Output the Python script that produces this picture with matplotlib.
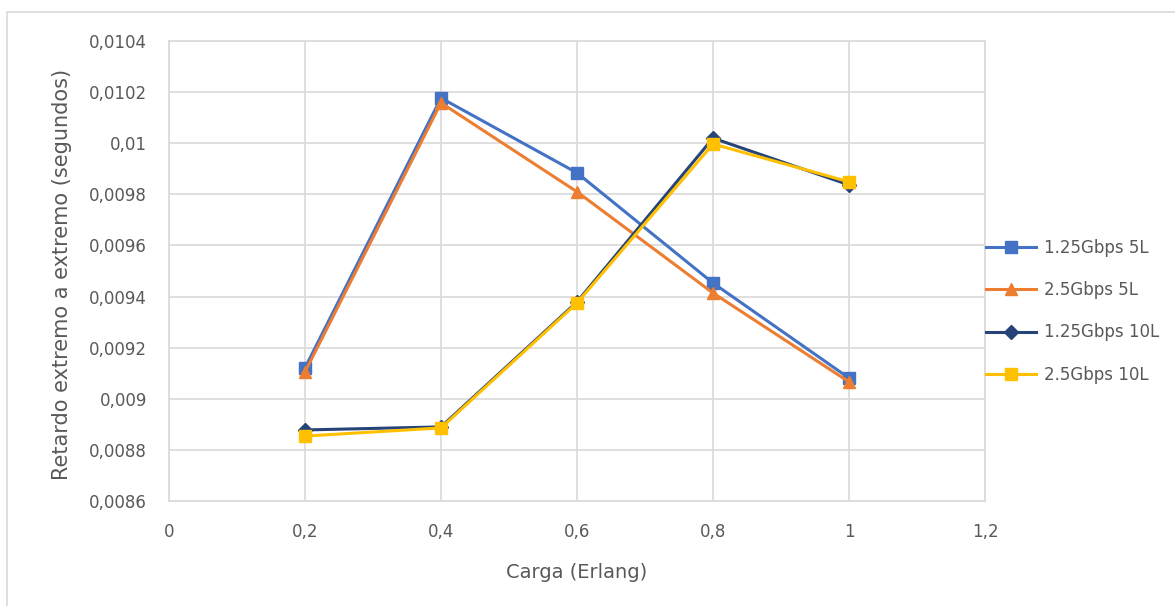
import matplotlib.pyplot as plt
from matplotlib.ticker import FuncFormatter
from matplotlib.patches import Rectangle
from matplotlib.lines import Line2D

# data
carga = [0.2, 0.4, 0.6, 0.8, 1.0]
g125_5l = [0.009121, 0.010177, 0.009884, 0.009453, 0.009081]
g25_5l = [0.009105, 0.010158, 0.009810, 0.009414, 0.009066]
g125_10l = [0.008878, 0.008890, 0.009379, 0.010020, 0.009837]
g25_10l = [0.008854, 0.008886, 0.009375, 0.009997, 0.009849]

labels = ["1.25Gbps 5L", "2.5Gbps 5L", "1.25Gbps 10L", "2.5Gbps 10L"]
series = [g125_5l, g25_5l, g125_10l, g25_10l]
colors = ["#4472C4", "#ED7D31", "#264478", "#FFC000"]
markers = ["s", "^", "D", "s"]
msizes = [8.5, 9, 7.5, 8.5]

plt.rcParams['font.family'] = ['DejaVu Sans']
txt = "#595959"
grid = "#D9D9D9"

fig = plt.figure(figsize=(11.75, 6.06), dpi=100)
# chart frame (extends past the image on the right and bottom)
fig.patches.append(Rectangle((7 / 1175, -0.05), 1.2, 1 - 12 / 606 + 0.05,
                             transform=fig.transFigure, fill=False,
                             edgecolor="#D9D9D9", linewidth=1.2))

ax = fig.add_axes([169 / 1175, 1 - 501 / 606, (985 - 169) / 1175, (501 - 41) / 606])

for ys, lab, c, m, ms in zip(series, labels, colors, markers, msizes):
    ax.plot(carga, ys, color=c, marker=m, markersize=ms, linewidth=2.2, label=lab,
            markeredgecolor=c)

ax.set_xlim(0, 1.2)
ax.set_ylim(0.0086, 0.0104)
ax.set_xticks([0, 0.2, 0.4, 0.6, 0.8, 1.0, 1.2])
ax.set_yticks([0.0086 + 0.0002 * i for i in range(10)])

def fmt(v, pos):
    s = f"{v:.4f}".rstrip("0").rstrip(".")
    return s.replace(".", ",")

ax.xaxis.set_major_formatter(FuncFormatter(lambda v, p: f"{v:.1f}".rstrip("0").rstrip(".").replace(".", ",")))
ax.yaxis.set_major_formatter(FuncFormatter(fmt))

ax.grid(True, color=grid, linewidth=1.2)
ax.set_axisbelow(True)
for sp in ax.spines.values():
    sp.set_color(grid)
    sp.set_linewidth(1.2)
ax.tick_params(length=0, colors=txt, labelsize=12)
ax.tick_params(axis="y", pad=16)
ax.tick_params(axis="x", pad=16)

ax.set_xlabel("Carga (Erlang)", color=txt, fontsize=14)
ax.set_ylabel("Retardo extremo a extremo (segundos)", color=txt, fontsize=15)
ax.xaxis.set_label_coords(0.5, -(573 - 501) / 460, transform=ax.transAxes)
ax.yaxis.set_label_coords(-(169 - 62) / 816, 1 - (274 - 41) / 460, transform=ax.transAxes)
ax.xaxis.label.set_va("center")
ax.yaxis.label.set_va("center")

handles = [Line2D([0], [0], color=c, marker=m, markersize=ms, linewidth=2.2)
           for c, m, ms in zip(colors, markers, msizes)]
leg = fig.legend(handles, labels, loc="upper left",
                 bbox_to_anchor=(986 / 1175, 1 - 239 / 606),
                 frameon=False, fontsize=12, handlelength=3.0,
                 labelspacing=1.45, handletextpad=0.5, borderaxespad=0,
                 borderpad=0)
for t in leg.get_texts():
    t.set_color(txt)

fig.savefig("out.png", dpi=100, facecolor="white")
